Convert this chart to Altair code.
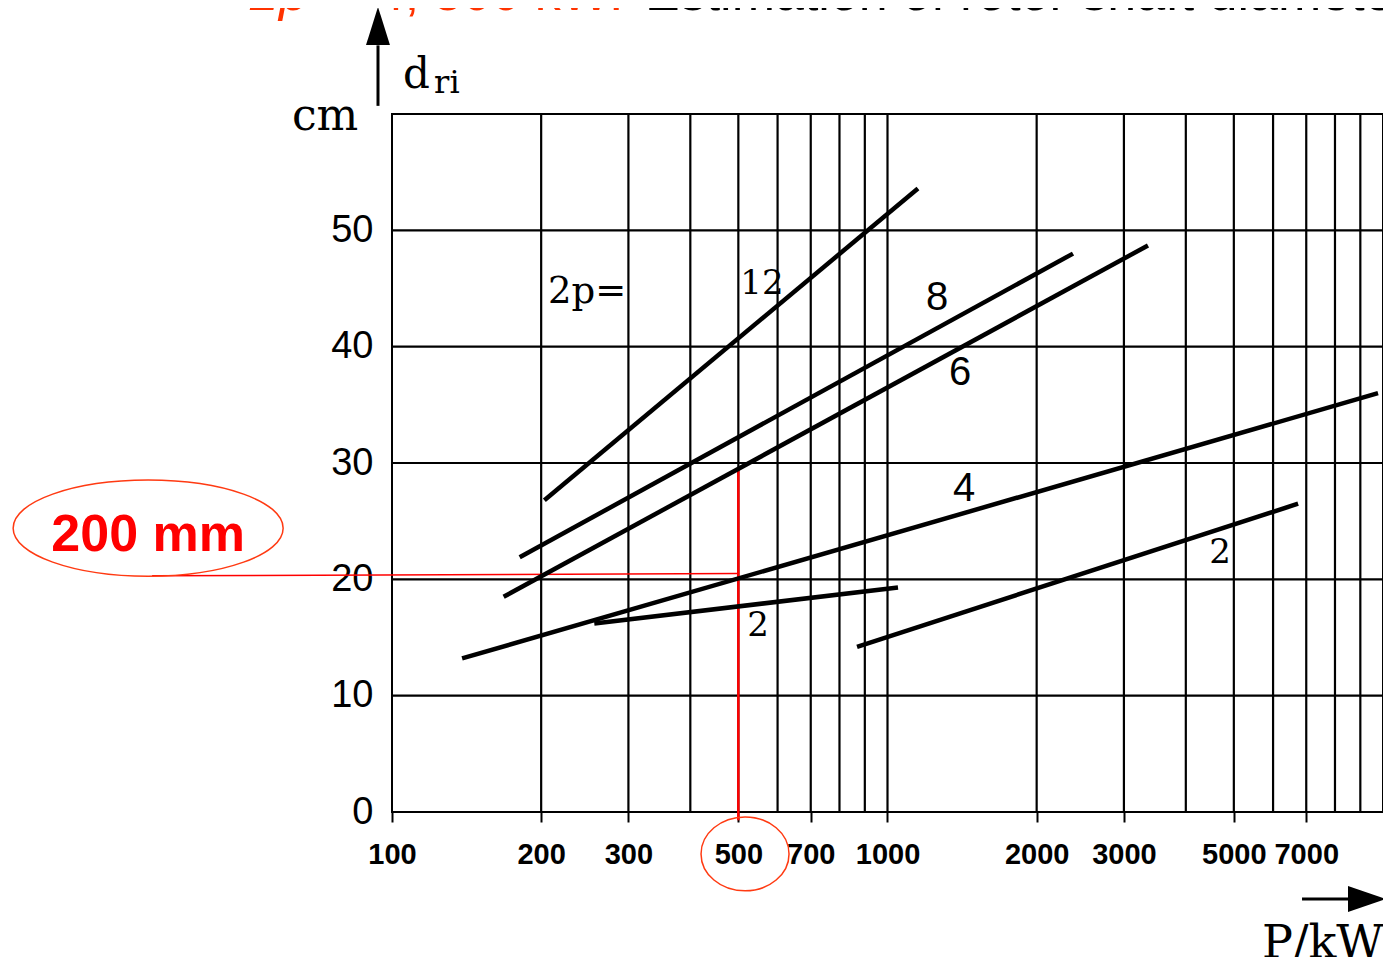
import altair as alt
import pandas as pd

# ---------------- data ----------------
# Curves d_ri(P) for 2p = 12, 8, 6, 4, 2 (two ranges of 2p=2)
curve_id = ["12", "8", "6", "4", "2a", "2b"]
curve_P0 = [203, 181, 168, 138.5, 256, 868]
curve_d0 = [26.8, 21.9, 18.5, 13.2, 16.2, 14.2]
curve_P1 = [1152, 2368, 3355, 9771, 1050, 6740]
curve_d1 = [53.6, 48.0, 48.7, 36.0, 19.3, 26.5]

# Curve labels
serif_lab_text = ["12", "2", "2"]
serif_lab_P = [558, 548, 4688]
serif_lab_d = [45.4, 16.0, 22.3]
sans_lab_text = ["8", "6", "4"]
sans_lab_P = [1259, 1401, 1427]
sans_lab_d = [44.2, 37.7, 27.8]
pole_text = ["2p="]
pole_P = [206.5]
pole_d = [44.7]

# Grid and ticks
grid_P = [200, 300, 400, 500, 600, 700, 800, 900, 1000,
          2000, 3000, 4000, 5000, 6000, 7000, 8000, 9000]
grid_d = [10, 20, 30, 40, 50]
x_ticks = [100, 200, 300, 500, 700, 1000, 2000, 3000, 5000, 7000]
y_ticks = [0, 10, 20, 30, 40, 50]

# Red read-off annotation (500 kW -> 20 cm)
red_v_P = [500, 500]
red_v_d = [-0.7, 29.6]
red_h_P = [32.8, 500]
red_h_d = [20.3, 20.5]
result_text = ["200 mm"]
result_P = [32.2]
result_d = [23.8]
result_ell_P = [32.2]
result_ell_d = [24.4]
power_ell_P = [515.8]
power_ell_d = [-3.6]

# Axis annotations
ylab_cm_P, ylab_cm_d = [73.3], [58.6]
ylab_d_P, ylab_d_d = [105.2], [62.2]
ylab_ri_P, ylab_ri_d = [121.6], [61.8]
xlab_P, xlab_d = [5700], [-12.55]
yarrow_P = [93.7, 93.7]
yarrow_d = [60.7, 65.9]
yhead_P, yhead_d = [93.7], [67.57]
xarrow_P = [6864, 8579]
xarrow_d = [-7.48, -7.48]
xhead_P, xhead_d = [9284], [-7.48]

# Title (cut off at the top of the picture)
title_a_P, title_a_d = [51.7], [68.9]
title_b_P, title_b_d = [75.3], [68.9]
title_c_P, title_c_d = [324], [68.9]

# ---------------- chart ----------------
xscale = alt.Scale(type="log", domain=[100, 10000], nice=False)
yscale = alt.Scale(domain=[0, 60], nice=False, zero=False)

SERIF = "DejaVu Serif"
SANS = "Liberation Sans"

x_axis = alt.Axis(values=x_ticks, format="d", title=None, grid=False, domain=False,
                  ticks=True, tickSize=10, tickWidth=2, tickColor="black",
                  labelFont=SANS, labelFontWeight="bold", labelFontSize=29,
                  labelColor="black", labelPadding=18, labelOverlap=False,
                  labelFlush=False, labelBound=False)
y_axis = alt.Axis(values=y_ticks, format="d", title=None, grid=False, domain=False,
                  ticks=False, tickSize=0, labelFont=SANS, labelFontSize=38,
                  labelColor="black", labelPadding=19, labelOverlap=False,
                  labelFlush=False, labelBound=False)


def X():
    return alt.X("P:Q", scale=xscale, axis=x_axis)


def Y():
    return alt.Y("d:Q", scale=yscale, axis=y_axis)


vgrid = alt.Chart(pd.DataFrame({"P": grid_P})).mark_rule(
    color="black", strokeWidth=2.2).encode(x=X())
hgrid = alt.Chart(pd.DataFrame({"d": grid_d})).mark_rule(
    color="black", strokeWidth=2.2).encode(y=Y())

red_v = alt.Chart(pd.DataFrame({"P": red_v_P, "d": red_v_d})).mark_line(
    color="#ff0000", strokeWidth=2.5).encode(x=X(), y=Y())
red_h = alt.Chart(pd.DataFrame({"P": red_h_P, "d": red_h_d})).mark_line(
    color="#ff0000", strokeWidth=1.5).encode(x=X(), y=Y())

rows = []
for cid, p0, d0, p1, d1 in zip(curve_id, curve_P0, curve_d0, curve_P1, curve_d1):
    rows.append({"curve": cid, "P": p0, "d": d0})
    rows.append({"curve": cid, "P": p1, "d": d1})
curves = alt.Chart(pd.DataFrame(rows)).mark_line(
    color="black", strokeWidth=4.5, strokeCap="butt").encode(
    x=X(), y=Y(), detail="curve:N")


def text_layer(texts, Ps, ds, **kw):
    return alt.Chart(pd.DataFrame({"t": texts, "P": Ps, "d": ds})).mark_text(
        **kw).encode(x=X(), y=Y(), text="t:N")


serif_labels = text_layer(serif_lab_text, serif_lab_P, serif_lab_d, font=SERIF,
                          fontSize=34, color="black", align="center", baseline="middle")
sans_labels = text_layer(sans_lab_text, sans_lab_P, sans_lab_d, font=SANS,
                         fontSize=40, color="black", align="center", baseline="middle")
pole_label = text_layer(pole_text, pole_P, pole_d, font=SERIF, fontSize=37,
                        color="black", align="left", baseline="middle")


def ellipse_path(ry):
    k = 0.5523
    return (f"M 1 0 C 1 {k*ry:.4f} {k:.4f} {ry:.4f} 0 {ry:.4f} "
            f"C {-k:.4f} {ry:.4f} -1 {k*ry:.4f} -1 0 "
            f"C -1 {-k*ry:.4f} {-k:.4f} {-ry:.4f} 0 {-ry:.4f} "
            f"C {k:.4f} {-ry:.4f} 1 {-k*ry:.4f} 1 0 Z")


res_ell = alt.Chart(pd.DataFrame({"P": result_ell_P, "d": result_ell_d})).mark_point(
    shape=ellipse_path(0.356), size=72900, filled=False, color="#ff3a12",
    strokeWidth=1.5, opacity=1).encode(x=X(), y=Y())
pow_ell = alt.Chart(pd.DataFrame({"P": power_ell_P, "d": power_ell_d})).mark_point(
    shape=ellipse_path(0.84), size=7744, filled=False, color="#ff3a12",
    strokeWidth=1.5, opacity=1).encode(x=X(), y=Y())
res_text = text_layer(result_text, result_P, result_d, font=SANS, fontSize=52,
                      fontWeight="bold", color="#ff0000", align="center",
                      baseline="middle")

cm_text = text_layer(["cm"], ylab_cm_P, ylab_cm_d, font=SERIF, fontSize=44,
                     color="black", align="center", baseline="alphabetic")
d_text = text_layer(["d"], ylab_d_P, ylab_d_d, font=SERIF, fontSize=42,
                    color="black", align="left", baseline="alphabetic")
ri_text = text_layer(["ri"], ylab_ri_P, ylab_ri_d, font=SERIF, fontSize=32,
                     color="black", align="left", baseline="alphabetic")
pkw_text = text_layer(["P/kW"], xlab_P, xlab_d, font=SERIF, fontSize=46,
                      color="black", align="left", baseline="alphabetic")

y_shaft = alt.Chart(pd.DataFrame({"P": yarrow_P, "d": yarrow_d})).mark_line(
    color="black", strokeWidth=3).encode(x=X(), y=Y())
y_head = alt.Chart(pd.DataFrame({"P": yhead_P, "d": yhead_d})).mark_point(
    shape="M 0 -1 L 0.63 1 L -0.63 1 Z", size=1444, filled=True, color="black",
    opacity=1).encode(x=X(), y=Y())
x_shaft = alt.Chart(pd.DataFrame({"P": xarrow_P, "d": xarrow_d})).mark_line(
    color="black", strokeWidth=3).encode(x=X(), y=Y())
x_head = alt.Chart(pd.DataFrame({"P": xhead_P, "d": xhead_d})).mark_point(
    shape="M 1 0 L -1 -0.68 L -1 0.68 Z", size=1444, filled=True, color="black",
    opacity=1).encode(x=X(), y=Y())

title_a = text_layer(["2p"], title_a_P, title_a_d, font=SANS, fontSize=52,
                     fontStyle="italic", color="#ff3300", align="left",
                     baseline="alphabetic")
title_b = text_layer(["= 4, 500 kW:"], title_b_P, title_b_d, font=SANS, fontSize=52,
                     color="#ff3300", align="left", baseline="alphabetic")
title_c = text_layer(["Estimation of rotor shaft diameter"], title_c_P, title_c_d,
                     font=SANS, fontSize=52, color="black", align="left",
                     baseline="alphabetic")

chart = alt.layer(
    vgrid, hgrid, red_v, red_h, curves, serif_labels, sans_labels, pole_label,
    res_ell, pow_ell, res_text, cm_text, d_text, ri_text, pkw_text,
    y_shaft, y_head, x_shaft, x_head, title_a, title_b, title_c,
).properties(
    width=991, height=698,
    autosize=alt.AutoSizeParams(type="none"),
    padding={"left": 384, "top": 106, "right": 0, "bottom": 145},
    background="white",
).configure_view(stroke="black", strokeWidth=2)

chart.save("out.html", embed_options={"renderer": "svg", "actions": False})
